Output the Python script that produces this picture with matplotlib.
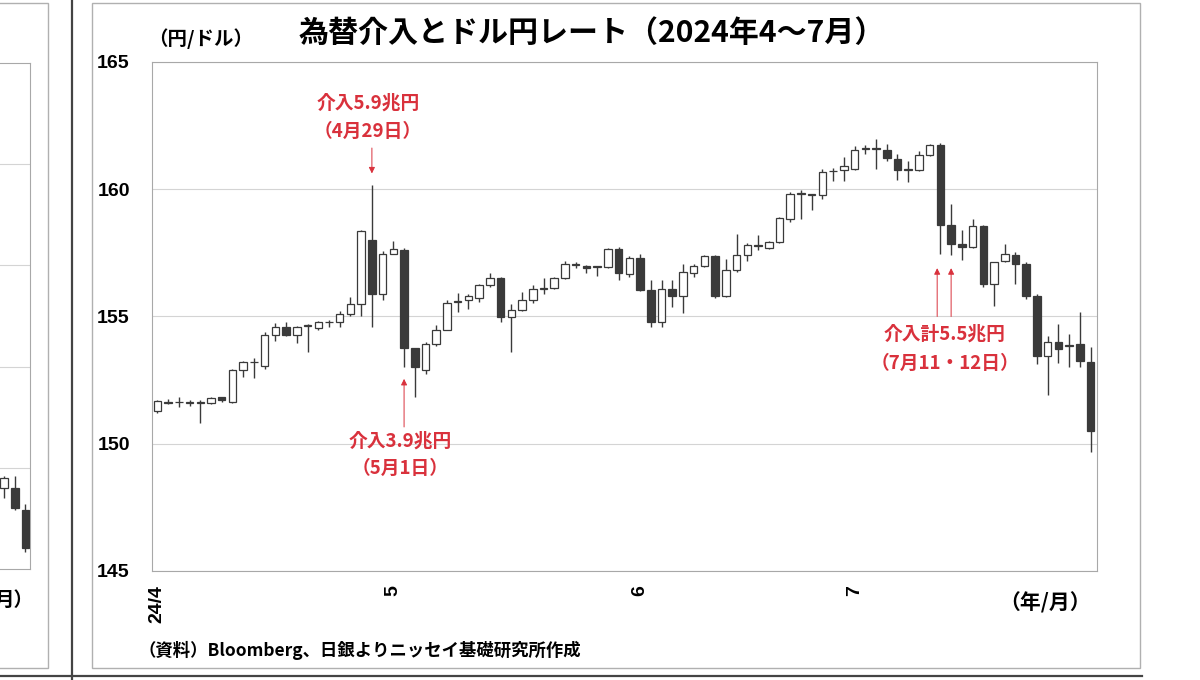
import matplotlib.pyplot as plt
import matplotlib.patches as mpatches
from matplotlib.lines import Line2D
import pandas as pd
import numpy as np

plt.rcParams['font.family'] = ['Noto Sans CJK JP', 'DejaVu Sans']

# daily USD/JPY candles, business days 2024-04-01 .. 2024-07-31
dates = pd.bdate_range('2024-04-01', '2024-07-31')
opens = [151.30, 151.66, 151.63, 151.60, 151.62, 151.60, 151.82, 151.65, 152.90, 153.20,
         153.07, 154.29, 154.58, 154.28, 154.62, 154.55, 154.77, 154.78, 155.08, 155.50,
         158.00, 155.87, 157.47, 157.62, 153.75, 152.90, 153.90, 154.47, 155.58, 155.63,
         155.73, 156.22, 156.52, 154.97, 155.24, 155.63, 156.10, 156.13, 156.52, 157.02,
         157.00, 156.95, 156.94, 157.66, 156.68, 157.31, 156.05, 154.78, 156.09, 155.79,
         156.71, 156.97, 157.36, 155.79, 156.84, 157.40, 157.80, 157.70, 157.93, 158.85,
         159.82, 159.77, 159.76, 160.70, 160.75, 160.81, 161.58, 161.58, 161.56, 161.17,
         160.75, 160.75, 161.34, 161.73, 158.58, 157.86, 157.73, 158.54, 156.29, 157.18,
         157.40, 157.07, 155.79, 153.46, 153.99, 153.85, 153.92, 153.20]
highs = [151.72, 151.75, 151.85, 151.72, 151.72, 151.85, 151.85, 152.95, 153.27, 153.35,
         154.38, 154.74, 154.78, 154.64, 154.70, 154.82, 154.87, 155.20, 155.76, 158.41,
         160.18, 157.56, 157.97, 157.70, 153.78, 153.99, 154.65, 155.66, 155.92, 155.90,
         156.29, 156.70, 156.57, 155.50, 155.96, 156.22, 156.52, 156.57, 157.18, 157.14,
         157.02, 157.00, 157.70, 157.73, 157.36, 157.47, 156.44, 156.44, 156.42, 157.07,
         157.07, 157.40, 157.40, 157.27, 158.25, 157.89, 158.19, 157.96, 158.91, 159.90,
         159.96, 159.80, 160.81, 160.85, 161.27, 161.69, 161.73, 161.96, 161.77, 161.40,
         161.12, 161.51, 161.77, 161.80, 159.44, 158.39, 158.85, 158.58, 157.14, 157.86,
         157.53, 157.14, 155.89, 154.25, 154.69, 154.32, 155.17, 153.79]
lows = [151.22, 151.55, 151.45, 151.50, 150.80, 151.55, 151.65, 151.60, 152.64, 152.60,
        152.94, 154.03, 154.25, 153.95, 153.60, 154.45, 154.58, 154.58, 155.03, 155.00,
        154.58, 155.63, 157.44, 153.03, 151.82, 152.74, 153.86, 154.45, 155.17, 155.30,
        155.56, 156.15, 154.78, 153.60, 155.21, 155.52, 155.90, 156.09, 156.48, 156.92,
        156.70, 156.58, 156.92, 156.42, 156.57, 156.00, 154.58, 154.58, 155.39, 155.13,
        156.55, 156.94, 155.73, 155.75, 156.75, 157.18, 157.60, 157.67, 157.89, 158.71,
        158.85, 159.20, 159.63, 160.33, 160.31, 160.75, 161.40, 160.81, 161.12, 160.35,
        160.29, 160.70, 161.30, 157.47, 157.40, 157.23, 157.70, 156.15, 155.43, 157.14,
        156.29, 155.70, 153.14, 151.93, 153.16, 153.00, 153.03, 149.66]
closes = [151.69, 151.61, 151.65, 151.62, 151.65, 151.80, 151.70, 152.90, 153.20, 153.22,
          154.28, 154.58, 154.28, 154.60, 154.66, 154.78, 154.80, 155.10, 155.50, 158.36,
          155.87, 157.47, 157.64, 153.75, 153.03, 153.92, 154.47, 155.54, 155.60, 155.79,
          156.22, 156.52, 154.97, 155.24, 155.66, 156.09, 156.12, 156.52, 157.05, 157.05,
          156.90, 156.97, 157.66, 156.70, 157.31, 156.05, 154.78, 156.09, 155.79, 156.75,
          156.97, 157.36, 155.79, 156.84, 157.40, 157.80, 157.76, 157.93, 158.88, 159.83,
          159.85, 159.80, 160.68, 160.73, 160.90, 161.54, 161.60, 161.60, 161.21, 160.77,
          160.78, 161.34, 161.73, 158.58, 157.83, 157.73, 158.54, 156.29, 157.14, 157.47,
          157.07, 155.79, 153.46, 153.99, 153.73, 153.87, 153.24, 150.51]

# interventions: arrow x (trading-day index), arrow tail, arrow head, label lines
int1_x, int1_from, int1_to = [20], 161.62, 160.62
int1_text = ['介入5.9兆円', '（4月29日）']
int2_x, int2_from, int2_to = [23], 150.66, 152.55
int2_text = ['介入3.9兆円', '（5月1日）']
int3_x, int3_from, int3_to = [72.7, 74.0], 155.0, 156.9
int3_text = ['介入計5.5兆円', '（7月11・12日）']

yticks = [145, 150, 155, 160, 165]

# last three candles of the neighbouring panel (cut off at the left edge)
left_o = [0.80, 0.80, 0.58]
left_h = [0.92, 0.92, 0.64]
left_l = [0.70, 0.58, 0.17]
left_c = [0.90, 0.60, 0.21]

W, H = 1200, 680
RED = '#d9313c'
DARK = '#3a3a3a'


def fx(px):
    return px / W


def fy(py):
    return 1 - py / H


fig = plt.figure(figsize=(12, 6.8), dpi=100)
fig.patch.set_facecolor('white')

# panel separators and frames
fig.add_artist(Line2D([fx(72), fx(72)], [0, 1], color='#444444', lw=1.6))
fig.add_artist(Line2D([0, fx(1142)], [fy(676), fy(676)], color='#444444', lw=1.6))
fig.add_artist(mpatches.Rectangle((fx(92), fy(668)), fx(1140) - fx(92), fy(3) - fy(668),
                                  fill=False, ec='#b0b0b0', lw=1.0))
fig.add_artist(mpatches.Rectangle((fx(-20), fy(668)), fx(48) - fx(-20), fy(3) - fy(668),
                                  fill=False, ec='#b0b0b0', lw=1.0))
fig.text(fx(-5), fy(600), '月）', fontsize=14, fontweight='bold', va='center', ha='left')

axl = fig.add_axes([fx(-200), fy(569), fx(230) - fx(0), fy(63) - fy(569)])
for y in [1, 2, 3, 4]:
    axl.axhline(y, color='#d4d4d4', lw=0.8)
for i, (o, h, l, c) in enumerate(zip(left_o, left_h, left_l, left_c)):
    xx = 17.92 + 0.94 * i
    axl.vlines(xx, l, h, color=DARK, lw=1)
    axl.bar(xx, abs(c - o), bottom=min(o, c), width=0.66,
            color='white' if c > o else DARK, edgecolor=DARK, lw=0.9, zorder=3)
axl.set_xlim(0, 20.2)
axl.set_ylim(0, 5)
axl.set_xticks([])
axl.set_yticks([])
for s in axl.spines.values():
    s.set_color('#a8a8a8')

# main chart
ax = fig.add_axes([fx(152), fy(571), fx(1097) - fx(152), fy(62) - fy(571)])
x = np.arange(len(dates))
for i in x:
    o, h, l, c = opens[i], highs[i], lows[i], closes[i]
    ax.vlines(i, l, h, color=DARK, lw=1.0, zorder=2)
    body = max(abs(c - o), 0.03)
    ax.bar(i, body, bottom=min(o, c), width=0.7,
           color='white' if c >= o else DARK, edgecolor=DARK, lw=0.9, zorder=3)

ax.set_xlim(-0.5, 87.6)
ax.set_ylim(145, 165)
ax.set_yticks(yticks)
ax.set_yticklabels([str(v) for v in yticks], family='Liberation Sans', fontweight='bold', fontsize=14)
ax.grid(axis='y', color='#d4d4d4', lw=0.8)
ax.set_axisbelow(True)
for s in ax.spines.values():
    s.set_color('#a8a8a8')
ax.tick_params(axis='y', length=0, pad=16)

month_pos = [i for i in range(len(dates)) if i == 0 or dates[i].month != dates[i - 1].month]
month_lab = ['24/4' if i == 0 else str(dates[i].month) for i in month_pos]
ax.set_xticks(month_pos)
ax.set_xticklabels(month_lab, rotation=90, family='Liberation Sans', fontweight='bold',
                   fontsize=14, va='top')
ax.tick_params(axis='x', length=0, pad=10)

# intervention annotations
arrow_kw = dict(arrowstyle='-|>', color=RED, lw=0.7, mutation_scale=9, shrinkA=0, shrinkB=0)
for xs, y0, y1 in [(int1_x, int1_from, int1_to), (int2_x, int2_from, int2_to),
                   (int3_x, int3_from, int3_to)]:
    for xa in xs:
        ax.annotate('', xy=(xa, y1), xytext=(xa, y0), arrowprops=arrow_kw, zorder=4)

for lines, cx, ys in [(int1_text, 368, (103, 131)), (int2_text, 400, (441, 468)),
                      (int3_text, 945, (334, 363))]:
    for t, yy in zip(lines, ys):
        fig.text(fx(cx), fy(yy), t, color=RED, fontsize=13.5, fontweight='bold',
                 ha='center', va='center')

# titles and notes
fig.text(fx(592), fy(33), '為替介入とドル円レート（2024年4～7月）', fontsize=21.6,
         fontweight='bold', ha='center', va='center')
fig.text(fx(148), fy(39), '（円/ドル）', fontsize=14, fontweight='bold', ha='left', va='center')
fig.text(fx(1045), fy(603), '（年/月）', fontsize=15, fontweight='bold', ha='center', va='center')
fig.text(fx(138), fy(650), '（資料）Bloomberg、日銀よりニッセイ基礎研究所作成', fontsize=12.5,
         fontweight='bold', ha='left', va='center')

fig.savefig('out.png', dpi=100)
